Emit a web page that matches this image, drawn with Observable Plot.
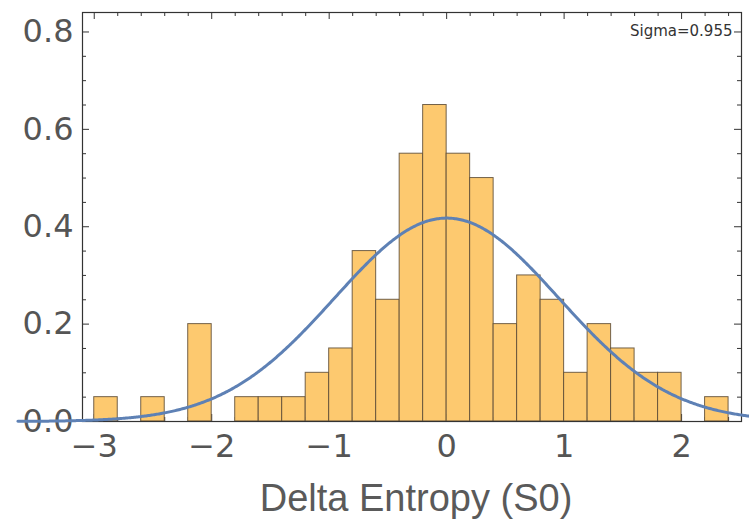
<!DOCTYPE html>
<html>
<head>
<meta charset="utf-8">
<script src="https://cdn.jsdelivr.net/npm/d3@7"></script>
<script src="https://cdn.jsdelivr.net/npm/@observablehq/plot@0.6"></script>
<style>
  body { margin: 0; background: #fff; }
  #chart svg { display: block; }
</style>
</head>
<body>
<div id="chart"></div>
<script>
// Histogram of entropy change (probability density, bin width 0.2)
const binLeft = [-3.0, -2.8, -2.6, -2.4, -2.2, -2.0, -1.8, -1.6, -1.4, -1.2, -1.0, -0.8, -0.6, -0.4,
                 -0.2, 0.0, 0.2, 0.4, 0.6, 0.8, 1.0, 1.2, 1.4, 1.6, 1.8, 2.0, 2.2];
const density = [0.05, 0, 0.05, 0, 0.20, 0, 0.05, 0.05, 0.05, 0.10, 0.15, 0.35, 0.25, 0.55,
                 0.65, 0.55, 0.50, 0.20, 0.30, 0.25, 0.10, 0.20, 0.15, 0.10, 0.10, 0, 0.05];
const binWidth = 0.2;

// Fitted normal distribution
const fitMean = 0;
const fitSigma = 0.955;
const sigmaLabel = "Sigma=0.955";

const xTickValues = [-3, -2, -1, 0, 1, 2];
const yTickValues = [0, 0.2, 0.4, 0.6, 0.8];
const xLabel = "Delta Entropy (S0)";

// Layout
const W = 749, H = 521;
const mL = 82, mR = 8, mT = 12, mB = 100;
const innerW = W - mL - mR, innerH = H - mT - mB;

// Minor frame ticks: every 0.2 on x, every 0.05 on y
const xMinor = d3.range(-15, 13).map(i => i / 5).filter(v => !xTickValues.includes(v));
const yMinor = d3.range(0, 17).map(i => i / 20).filter(v => !yTickValues.some(t => Math.abs(t - v) < 1e-9));
const majorLen = 7, minorLen = 4;

const bars = binLeft
  .map((x0, i) => ({x1: x0, x2: x0 + binWidth, y: density[i]}))
  .filter(d => d.y > 0);

const pdf = x => Math.exp(-0.5 * ((x - fitMean) / fitSigma) ** 2) / (fitSigma * Math.sqrt(2 * Math.PI));
const curve = d3.range(-365, 259).map(i => i / 100).map(x => ({x, y: pdf(x)}));

const tickFont = "DejaVu Sans";
const tickColor = "#555";
const frameColor = "#333";

// Inward-pointing frame ticks on all four sides
const frameTicks = [
  Plot.tickX(xMinor, {x: d => d, stroke: frameColor, insetTop: innerH - minorLen}),
  Plot.tickX(xTickValues, {x: d => d, stroke: frameColor, insetTop: innerH - majorLen}),
  Plot.tickX(xMinor, {x: d => d, stroke: frameColor, insetBottom: innerH - minorLen}),
  Plot.tickX(xTickValues, {x: d => d, stroke: frameColor, insetBottom: innerH - majorLen}),
  Plot.tickY(yMinor, {y: d => d, stroke: frameColor, insetRight: innerW - minorLen}),
  Plot.tickY(yTickValues, {y: d => d, stroke: frameColor, insetRight: innerW - majorLen}),
  Plot.tickY(yMinor, {y: d => d, stroke: frameColor, insetLeft: innerW - minorLen}),
  Plot.tickY(yTickValues, {y: d => d, stroke: frameColor, insetLeft: innerW - majorLen})
];

const chart = Plot.plot({
  width: W,
  height: H,
  marginLeft: mL,
  marginRight: mR,
  marginTop: mT,
  marginBottom: mB,
  style: {fontFamily: tickFont, background: "#fff", overflow: "visible"},
  x: {domain: [-3.1, 2.51]},
  y: {domain: [0, 0.84]},
  marks: [
    // tick labels
    Plot.axisY({ticks: yTickValues, tickSize: 0, tickPadding: 9, tickFormat: d3.format(".1f"),
                fontSize: 32, fill: tickColor, label: null}),
    Plot.axisX({ticks: xTickValues, tickSize: 0, tickPadding: 13, tickFormat: d3.format("d"),
                fontSize: 32, fill: tickColor, label: null}),
    ...frameTicks,
    // histogram bars
    Plot.rectY(bars, {x1: "x1", x2: "x2", y: "y", fill: "#fdc96f",
                      stroke: "#5a4a35", strokeOpacity: 0.85, strokeWidth: 1}),
    Plot.frame({stroke: frameColor, strokeWidth: 1.2}),
    // fitted normal density
    Plot.line(curve, {x: "x", y: "y", stroke: "#5e81b5", strokeWidth: 3}),
    // annotation and axis title
    Plot.text([sigmaLabel], {frameAnchor: "top-right", textAnchor: "end", lineAnchor: "top",
                             dx: -9, dy: 13, fontSize: 15, fill: "#333", fontFamily: tickFont}),
    Plot.text([xLabel], {frameAnchor: "bottom", lineAnchor: "middle", dy: 77, dx: 4,
                         fontSize: 38, fill: "#5a5a5a", fontFamily: "Liberation Sans"})
  ]
});

document.getElementById("chart").appendChild(chart);
</script>
</body>
</html>
